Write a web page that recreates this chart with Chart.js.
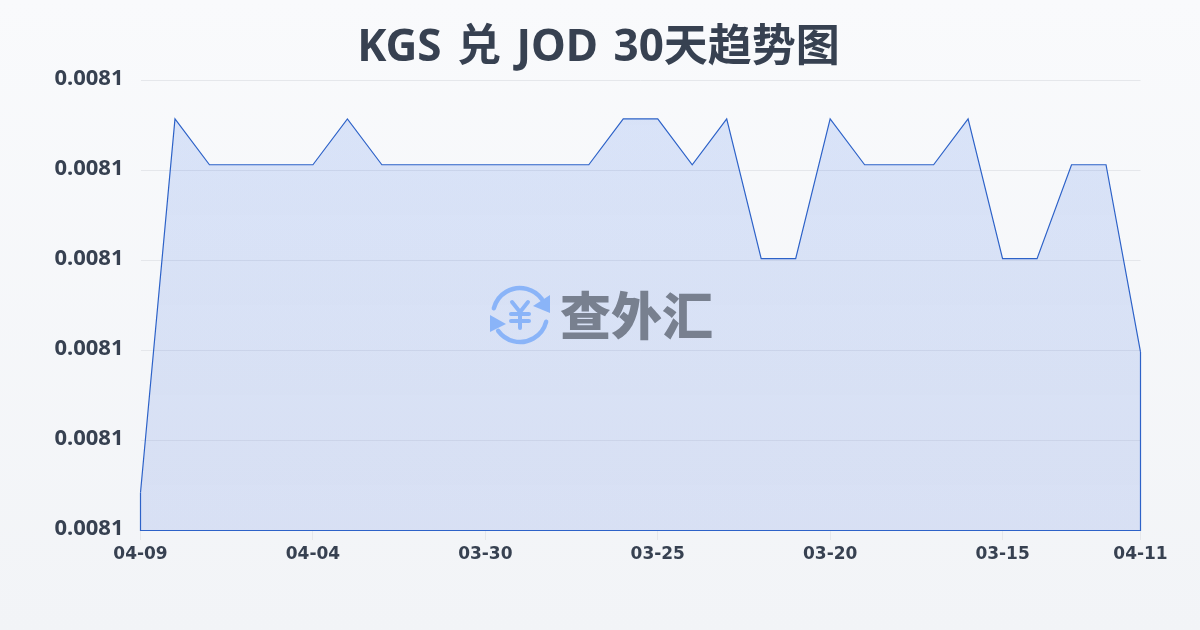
<!DOCTYPE html>
<html>
<head>
<meta charset="utf-8">
<style>
html,body{margin:0;padding:0;width:1200px;height:630px;overflow:hidden;background:linear-gradient(180deg,#f9fafc,#f2f4f7)}
canvas{display:block}
#title{position:absolute;left:0;top:15px;width:1197px;margin:0;text-align:center;color:#374151;word-spacing:4px;font:700 44px/58px "Noto Sans","Noto Sans CJK SC",sans-serif}
</style>
<script src="https://cdn.jsdelivr.net/npm/chart.js@4/dist/chart.umd.min.js"></script>
</head>
<body>
<h1 id="title"></h1>
<canvas id="rateChart" width="1200" height="630"></canvas>
<script>
const titleText = "KGS 兑 JOD 30天趋势图"

const categories = [
"04-09","04-08","04-07","04-06","04-05","04-04","04-03","04-02","04-01","03-31",
"03-30","03-29","03-28","03-27","03-26","03-25","03-24","03-23","03-22","03-21",
"03-20","03-19","03-18","03-17","03-16","03-15","03-14","03-13","03-12","04-11"
]

const rates = [
0.00808417,0.00812569,0.00812060,0.00812060,0.00812060,0.00812060,0.00812569,0.00812060,0.00812060,0.00812060,
0.00812060,0.00812060,0.00812060,0.00812060,0.00812569,0.00812569,0.00812060,0.00812569,0.00811017,0.00811017,
0.00812569,0.00812060,0.00812060,0.00812060,0.00812569,0.00811017,0.00811017,0.00812060,0.00812060,0.00809980
]

const yMin = 0.00808
const yMax = 0.00813
const yStep = 0.00001

const tickIndexes = [0,5,10,15,20,25,29]

const textColor = "#374151"
const lineColor = "#2d62c8"

document.getElementById("title").textContent = titleText

// closes the outline down the two ends and along the baseline
const outlinePlugin = {
id:"outline",
afterDatasetsDraw(chart){
const pts = chart.getDatasetMeta(0).data
const first = pts[0]
const last = pts[pts.length-1]
const bottom = chart.scales.y.bottom
const ctx = chart.ctx
ctx.save()
ctx.strokeStyle = lineColor
ctx.lineWidth = 1.2
ctx.beginPath()
ctx.moveTo(first.x,first.y)
ctx.lineTo(first.x,bottom+0.5)
ctx.lineTo(last.x,bottom+0.5)
ctx.lineTo(last.x,last.y)
ctx.stroke()
ctx.restore()
}
}

const watermarkPlugin = {
id:"watermark",
afterDatasetsDraw(chart){
const ctx = chart.ctx
const cx = 520
const cy = 315
const r = 27
ctx.save()
ctx.strokeStyle = "#8ab4f8"
ctx.fillStyle = "#8ab4f8"
ctx.lineWidth = 4.5
ctx.lineCap = "round"

ctx.beginPath()
ctx.arc(cx,cy,r,Math.PI*1.08,Math.PI*1.8)
ctx.stroke()
ctx.beginPath()
ctx.arc(cx,cy,r,Math.PI*0.08,Math.PI*0.8)
ctx.stroke()

ctx.beginPath()
ctx.moveTo(550,295)
ctx.lineTo(550,313)
ctx.lineTo(533,306)
ctx.closePath()
ctx.fill()
ctx.beginPath()
ctx.moveTo(490,315)
ctx.lineTo(490,332)
ctx.lineTo(506,324)
ctx.closePath()
ctx.fill()

ctx.lineWidth = 4
ctx.beginPath()
ctx.moveTo(512,302)
ctx.lineTo(520,312)
ctx.lineTo(528,302)
ctx.moveTo(520,312)
ctx.lineTo(520,328)
ctx.moveTo(511,314)
ctx.lineTo(529,314)
ctx.moveTo(511,321)
ctx.lineTo(529,321)
ctx.stroke()

ctx.fillStyle = "#78808f"
ctx.font = "900 51px 'Noto Sans CJK SC'"
ctx.textAlign = "left"
ctx.textBaseline = "middle"
ctx.fillText("查外汇",560,316)
ctx.restore()
}
}

new Chart(document.getElementById("rateChart"),{
type:"line",
data:{
labels:categories,
datasets:[{
data:rates,
borderColor:lineColor,
borderWidth:1.2,
pointRadius:0,
tension:0,
fill:"start",
backgroundColor(context){
const area = context.chart.chartArea
if(!area){
return "rgba(37,99,235,0.14)"
}
const g = context.chart.ctx.createLinearGradient(0,area.top,0,area.bottom)
g.addColorStop(0,"rgba(37,99,235,0.15)")
g.addColorStop(1,"rgba(37,85,215,0.13)")
return g
}
}]
},
options:{
responsive:false,
animation:false,
layout:{padding:{left:0,right:59.5,top:80.2,bottom:0}},
plugins:{
legend:{display:false},
tooltip:{enabled:false},
title:{display:false}
},
scales:{
x:{
offset:false,
border:{display:false},
grid:{drawOnChartArea:false,drawTicks:true,tickLength:10,color:"#e5e7eb"},
afterBuildTicks(scale){
scale.ticks = scale.ticks.filter(t=>tickIndexes.includes(t.value))
},
afterFit(scale){
scale.height = 100
},
ticks:{
autoSkip:false,
maxRotation:0,
padding:4,
color:textColor,
font:{family:"'DejaVu Sans'",size:17,weight:"700"},
callback(value){
return categories[value]
}
}
},
y:{
min:yMin,
max:yMax,
border:{display:false},
grid:{drawTicks:false,color:"#e5e7eb"},
afterFit(scale){
scale.width = 140.5
},
ticks:{
stepSize:yStep,
padding:17,
labelOffset:-1,
color:textColor,
font:{family:"'Noto Sans'",size:22,weight:"700"},
callback(value){
return value.toFixed(4)
}
}
}
}
},
plugins:[outlinePlugin,watermarkPlugin]
})
</script>
</body>
</html>
